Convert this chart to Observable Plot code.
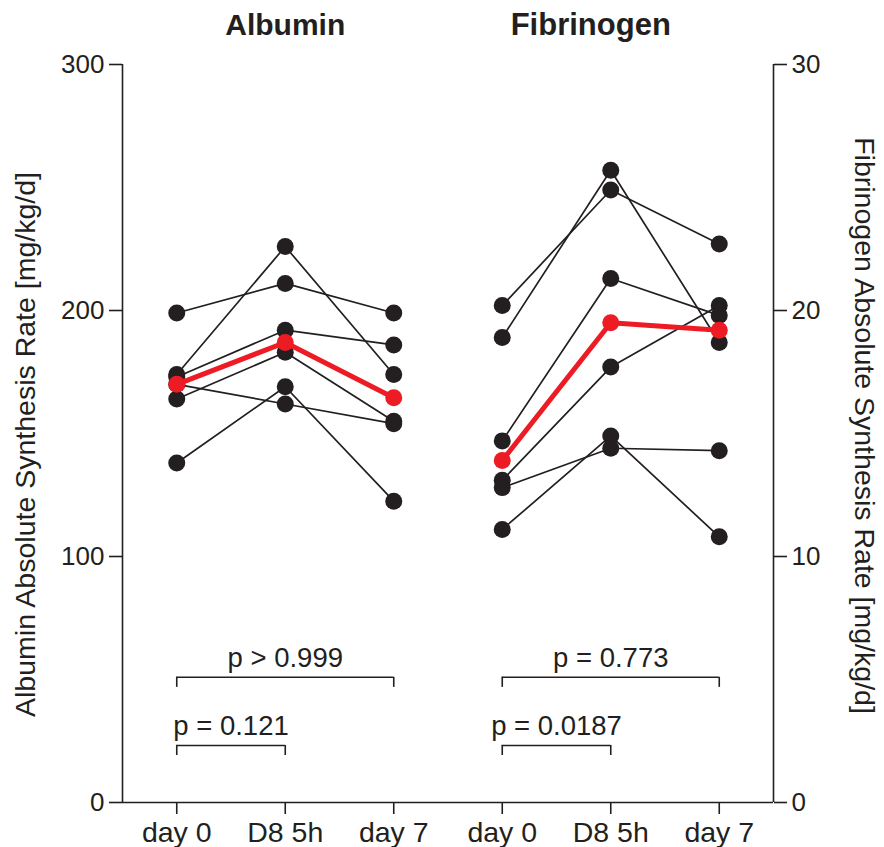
<!DOCTYPE html>
<html>
<head>
<meta charset="utf-8">
<script src="https://cdn.jsdelivr.net/npm/d3@7"></script>
<script src="https://cdn.jsdelivr.net/npm/@observablehq/plot@0.6"></script>
<style>
  body { margin: 0; background: #fff; }
  #wrap { position: relative; width: 884px; height: 847px; }
  #wrap svg { position: absolute; left: 0; top: 0; }
</style>
</head>
<body>
<div id="wrap"></div>
<script>
// ---- data ----
const categories = ["day 0", "D8 5h", "day 7"];
const panels = ["Albumin", "Fibrinogen"];

const albuminDay0 = [199, 174, 173, 164, 138, 170];
const albuminD8   = [211, 226, 192, 183, 169, 162];
const albuminDay7 = [199, 174, 186, 155, 122.5, 154];
const albuminMedian = [170, 187, 164.5];

const fibrinogenDay0 = [20.2, 18.9, 14.7, 13.1, 12.8, 11.1];
const fibrinogenD8   = [24.9, 25.7, 21.3, 17.7, 14.4, 14.9];
const fibrinogenDay7 = [22.7, 18.7, 19.8, 20.2, 14.3, 10.8];
const fibrinogenMedian = [13.9, 19.5, 19.2];

const albuminTicks = [0, 100, 200, 300];
const fibrinogenTicks = [0, 10, 20, 30];

const albuminPValues = ["p > 0.999", "p = 0.121"];
const fibrinogenPValues = ["p = 0.773", "p = 0.0187"];

const albuminLabel = "Albumin Absolute Synthesis Rate [mg/kg/d]";
const fibrinogenLabel = "Fibrinogen Absolute Synthesis Rate [mg/kg/d]";

// ---- build tables ----
function longTable(offset, cols) {
  const rows = [];
  cols[0].forEach((_, s) => cols.forEach((col, t) => rows.push({s, x: offset + t, y: col[s]})));
  return rows;
}
const albRows = longTable(0, [albuminDay0, albuminD8, albuminDay7]);
const fibRows = longTable(3, [fibrinogenDay0, fibrinogenD8, fibrinogenDay7]);
const albMed = albuminMedian.map((y, t) => ({x: t, y}));
const fibMed = fibrinogenMedian.map((y, t) => ({x: 3 + t, y}));

const INK = "#231f20", RED = "#ed1c24";
const FONT = "'Liberation Sans', Arial, Helvetica, sans-serif";
const common = {
  width: 884, height: 847,
  marginLeft: 122, marginRight: 111, marginTop: 64, marginBottom: 45,
  style: {fontFamily: FONT, color: INK, background: "transparent", overflow: "visible"}
};
const xDomain = [-0.5, 5.5];

function brackets(offset, top, bottom, tick, labels) {
  const b = [
    {x1: offset, x2: offset + 2, y: top, label: labels[0]},
    {x1: offset, x2: offset + 1, y: bottom, label: labels[1]}
  ];
  return [
    Plot.ruleY(b, {x1: "x1", x2: "x2", y: "y", stroke: INK, strokeWidth: 1.6}),
    Plot.ruleX(b, {x: "x1", y1: d => d.y - tick, y2: "y", stroke: INK, strokeWidth: 1.6}),
    Plot.ruleX(b, {x: "x2", y1: d => d.y - tick, y2: "y", stroke: INK, strokeWidth: 1.6}),
    Plot.text(b, {x: d => (d.x1 + d.x2) / 2, y: "y", text: "label", lineAnchor: "bottom",
      dy: -10, fontSize: 27.5, fill: INK})
  ];
}

function series(rows, med) {
  return [
    Plot.line(rows, {x: "x", y: "y", z: "s", stroke: INK, strokeWidth: 1.7}),
    Plot.dot(rows, {x: "x", y: "y", r: 8.5, fill: INK, stroke: null}),
    Plot.line(med, {x: "x", y: "y", stroke: RED, strokeWidth: 5}),
    Plot.dot(med, {x: "x", y: "y", r: 8.5, fill: RED, stroke: null})
  ];
}

const p1 = Plot.plot({
  ...common,
  x: {domain: xDomain},
  y: {domain: [0, 300]},
  marks: [
    Plot.axisY({ticks: albuminTicks, tickSize: 13, tickPadding: 5, fontSize: 26, label: null, strokeWidth: 1.6}),
    Plot.axisX({ticks: [0, 1, 2, 3, 4, 5], tickFormat: i => categories[i % 3], tickSize: 12,
      tickPadding: 7, fontSize: 28.5, label: null, strokeWidth: 1.6}),
    Plot.ruleX([-0.5], {y1: 0, y2: 300, stroke: INK, strokeWidth: 1.6}),
    Plot.ruleY([0], {x1: -0.5, x2: 5.5, stroke: INK, strokeWidth: 1.6}),
    ...series(albRows, albMed),
    ...brackets(0, 50.9, 23.2, 4.1, albuminPValues),
    Plot.text([panels[0]], {x: () => 1, frameAnchor: "top", text: d => d, lineAnchor: "bottom",
      dy: -30, fontSize: 30, fontWeight: "bold", fill: INK}),
    Plot.text([panels[1]], {x: () => 4, frameAnchor: "top", text: d => d, lineAnchor: "bottom",
      dy: -30, dx: -20, fontSize: 31, fontWeight: "bold", fill: INK}),
    Plot.text([albuminLabel], {frameAnchor: "left", text: d => d, rotate: -90, textAnchor: "middle",
      dx: -97, dy: 11, fontSize: 28.5, fill: INK})
  ]
});

const p2 = Plot.plot({
  ...common,
  x: {domain: xDomain, axis: null},
  y: {domain: [0, 30]},
  marks: [
    Plot.axisY({anchor: "right", ticks: fibrinogenTicks, tickSize: 13, tickPadding: 5, fontSize: 26,
      label: null, strokeWidth: 1.6}),
    Plot.ruleX([5.5], {y1: 0, y2: 30, stroke: INK, strokeWidth: 1.6}),
    ...series(fibRows, fibMed),
    ...brackets(3, 5.09, 2.32, 0.41, fibrinogenPValues),
    Plot.text([fibrinogenLabel], {frameAnchor: "right", text: d => d, rotate: 90, textAnchor: "middle",
      dx: 91, dy: -8, fontSize: 28.5, fill: INK})
  ]
});

const wrap = document.getElementById("wrap");
wrap.appendChild(p1);
wrap.appendChild(p2);
</script>
</body>
</html>
